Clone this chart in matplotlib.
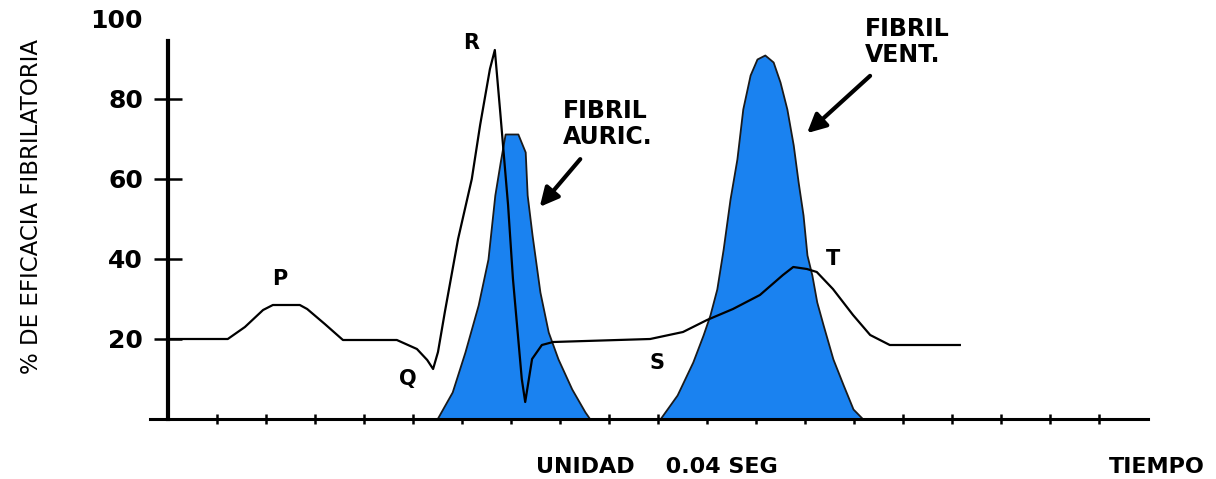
import matplotlib
matplotlib.use('Agg')
import matplotlib.pyplot as plt

# ECG trace (x in units of 0.04 s, y in %)
ecg_x = [0, 1.22, 1.57, 1.94, 2.14, 2.69, 2.84, 3.20, 3.57, 4.67, 5.08, 5.29, 5.41,
         5.51, 5.65, 5.92, 6.20, 6.37, 6.57, 6.67, 6.78, 6.94, 7.04, 7.22, 7.29, 7.43,
         7.63, 7.86, 9.84, 10.51, 11.0, 11.53, 12.08, 12.55, 12.76, 13.04, 13.24, 13.57,
         13.98, 14.33, 14.73, 16.16]
ecg_y = [20, 20, 23, 27.25, 28.5, 28.5, 27.5, 23.75, 19.75, 19.75, 17.5, 14.75, 12.5,
         16.75, 26.75, 45, 60, 73.5, 87.5, 92.25, 76.75, 53.5, 35, 10, 4.25, 15,
         18.5, 19.25, 20, 21.75, 24.75, 27.5, 31, 36, 38, 37.5, 36.75, 32.5,
         26, 21, 18.5, 18.5]

# fibrilacion auricular (zona azul)
auric_x = [5.49, 5.80, 6.06, 6.33, 6.53, 6.67, 6.78, 6.88, 7.14, 7.29, 7.33, 7.43,
           7.59, 7.76, 7.96, 8.24, 8.51, 8.61]
auric_y = [0, 6.75, 16.75, 28.5, 40, 56, 64.25, 71.25, 71.25, 66.75, 56, 46,
           31.75, 21.75, 15, 7.5, 1.75, 0]

# fibrilacion ventricular (zona azul)
vent_x = [10.04, 10.39, 10.71, 10.92, 11.06, 11.20, 11.33, 11.47, 11.61, 11.73, 11.88,
          12.02, 12.18, 12.35, 12.49, 12.63, 12.76, 12.86, 12.96, 13.04, 13.14, 13.24,
          13.37, 13.57, 13.78, 13.98, 14.18]
vent_y = [0, 6, 14.25, 21, 26, 32.5, 42.5, 55, 65, 77.5, 86,
          90, 91, 89.25, 84.25, 77.5, 68.5, 59.25, 51, 41, 36, 29.25,
          23.5, 15, 8.5, 2.5, 0]

y_ticks = [20, 40, 60, 80, 100]
x_ticks = list(range(1, 20))

wave_labels = ['P', 'Q', 'R', 'S', 'T']
wave_pos = [(2.29, 35), (4.9, 10), (6.18, 94), (9.98, 14), (13.57, 40)]

blue = '#1a82f0'

plt.rcParams['font.family'] = ['DejaVu Sans']

fig = plt.figure(figsize=(12.16, 4.79), dpi=100)
ax = fig.add_axes([140 / 1216, 1 - 470 / 479, 1020 / 1216, 460 / 479])
ax.set_xlim((140 - 168) / 49, (1160 - 168) / 49)
ax.set_ylim(-12.75, 102.25)

# zonas de fibrilacion
ax.fill_between(auric_x, 0, auric_y, facecolor=blue, edgecolor='#1a1a1a', linewidth=1.3, zorder=2)
ax.fill_between(vent_x, 0, vent_y, facecolor=blue, edgecolor='#1a1a1a', linewidth=1.3, zorder=2)

# ECG
ax.plot(ecg_x, ecg_y, color='black', linewidth=1.6, zorder=3)

# ejes
for s in ['top', 'right']:
    ax.spines[s].set_visible(False)
ax.spines['left'].set_position(('data', 0))
ax.spines['bottom'].set_position(('data', 0))
ax.spines['left'].set_bounds(0, 94.5)
ax.spines['bottom'].set_bounds(-0.36, 20)
ax.spines['left'].set_linewidth(3)
ax.spines['bottom'].set_linewidth(2.2)
ax.spines['left'].set_zorder(4)
ax.spines['bottom'].set_zorder(4)

ax.set_yticks(y_ticks)
ax.set_yticklabels([str(v) for v in y_ticks], fontsize=18, fontweight='bold')
ax.tick_params(axis='y', direction='inout', length=20, width=1.8, pad=8)
ax.yaxis.get_major_ticks()[-1].tick1line.set_visible(False)

ax.set_xticks(x_ticks)
ax.set_xticklabels([])
ax.tick_params(axis='x', direction='inout', length=7, width=1.8)

# etiquetas de las ondas
for lab, (lx, ly) in zip(wave_labels, wave_pos):
    ax.text(lx, ly, lab, fontsize=15, fontweight='bold', ha='center', va='center')

# anotaciones con flechas
ax.text(8.06, 80, 'FIBRIL\nAURIC.', fontsize=17, fontweight='bold', ha='left', va='top',
        linespacing=1.1)
ax.annotate('', xy=(7.55, 52.5), xytext=(8.45, 65.5),
            arrowprops=dict(arrowstyle='-|>', lw=3, color='black', mutation_scale=28))
ax.text(14.22, 100.5, 'FIBRIL\nVENT.', fontsize=17, fontweight='bold', ha='left', va='top',
        linespacing=1.1)
ax.annotate('', xy=(13.0, 71), xytext=(14.37, 86.25),
            arrowprops=dict(arrowstyle='-|>', lw=3, color='black', mutation_scale=28))

# textos del eje x
ax.text(9.98, -12, 'UNIDAD    0.04 SEG', fontsize=16, fontweight='bold', ha='center', va='center')
ax.text(20.18, -12, 'TIEMPO', fontsize=16, fontweight='bold', ha='center', va='center')

fig.text(32 / 1216, 1 - 206 / 479, '% DE EFICACIA FIBRILATORIA', fontsize=16.5,
         rotation=90, ha='center', va='center')

fig.savefig('out.png', dpi=100, facecolor='white')
